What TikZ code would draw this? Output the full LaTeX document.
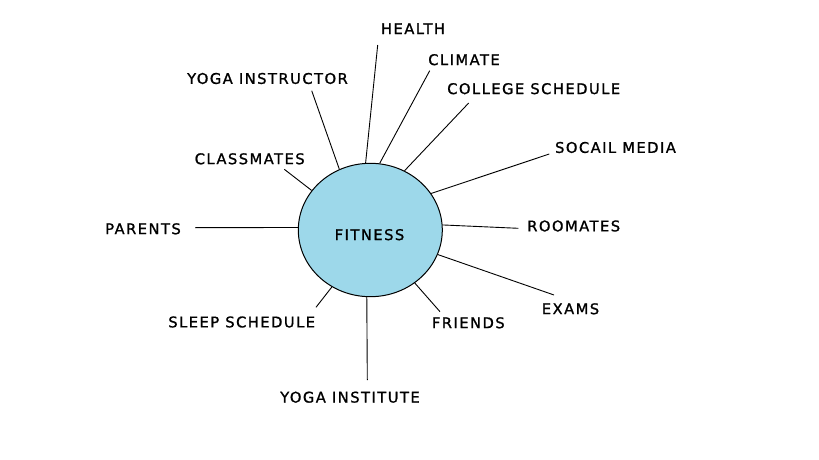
\documentclass[tikz,border=0pt]{standalone}
\usepackage{fontspec}
\setmainfont{DejaVu Sans}[LetterSpace=10, FakeBold=1.2]
\usetikzlibrary{shapes.geometric}
\definecolor{fitblue}{RGB}{157,216,234}
\tikzset{x=1pt, y=-1pt, every node/.append style={font=\fontsize{14.7}{16}\selectfont, inner sep=0pt}}
\tikzset{
    hub/.style={ellipse, draw, line width=1pt, fill=fitblue, minimum width=144, minimum height=133.4},
    spokeline/.style={line width=0.9pt}
}

\begin{document}
\begin{tikzpicture}
    \useasboundingbox (0,0) rectangle (819,460);
    \node[hub] (fit) at (370.3,230) {};
    \node (fitness) at (369.5,234.7) {FITNESS};
    % topics round the hub
    \node (health)     at (413,28.7)    {HEALTH};
    \node (climate)    at (464,59.7)    {CLIMATE};
    \node (college)    at (533.7,88.7)  {COLLEGE SCHEDULE};
    \node (instructor) at (267.5,78.5)  {YOGA INSTRUCTOR};
    \node (social)     at (615.5,147.5) {SOCAIL MEDIA};
    \node (classmates) at (249.7,158.8) {CLASSMATES};
    \node (parents)    at (143,228.8)   {PARENTS};
    \node (roomates)   at (573.7,226)   {ROOMATES};
    \node (exams)      at (570.5,308.8) {EXAMS};
    \node (sleep)      at (241.7,322)   {SLEEP SCHEDULE};
    \node (friends)    at (468.3,322.8) {FRIENDS};
    \node (institute)  at (350,397.2)   {YOGA INSTITUTE};
    % free ends of the spokes
    \coordinate (health-end)     at (377.7,45);
    \coordinate (climate-end)    at (429.7,70.7);
    \coordinate (college-end)    at (468.7,103);
    \coordinate (instructor-end) at (311.7,90.7);
    \coordinate (social-end)     at (549.3,154);
    \coordinate (classmates-end) at (284.3,169.3);
    \coordinate (parents-end)    at (195,227.7);
    \coordinate (roomates-end)   at (518.3,228.3);
    \coordinate (exams-end)      at (554,295);
    \coordinate (sleep-end)      at (316,307.3);
    \coordinate (friends-end)    at (440,311.7);
    \coordinate (institute-end)  at (367.3,380);
    \foreach \n/\a in {health/94.3, climate/82.6, college/60.5, instructor/117,
                       social/31.1, classmates/146.7, parents/178.2, roomates/4.5,
                       exams/-20.7, sleep/236.8, friends/-50.4, institute/267.4}
        \draw[spokeline] (fit.\a) -- (\n-end);
\end{tikzpicture}
\end{document}
